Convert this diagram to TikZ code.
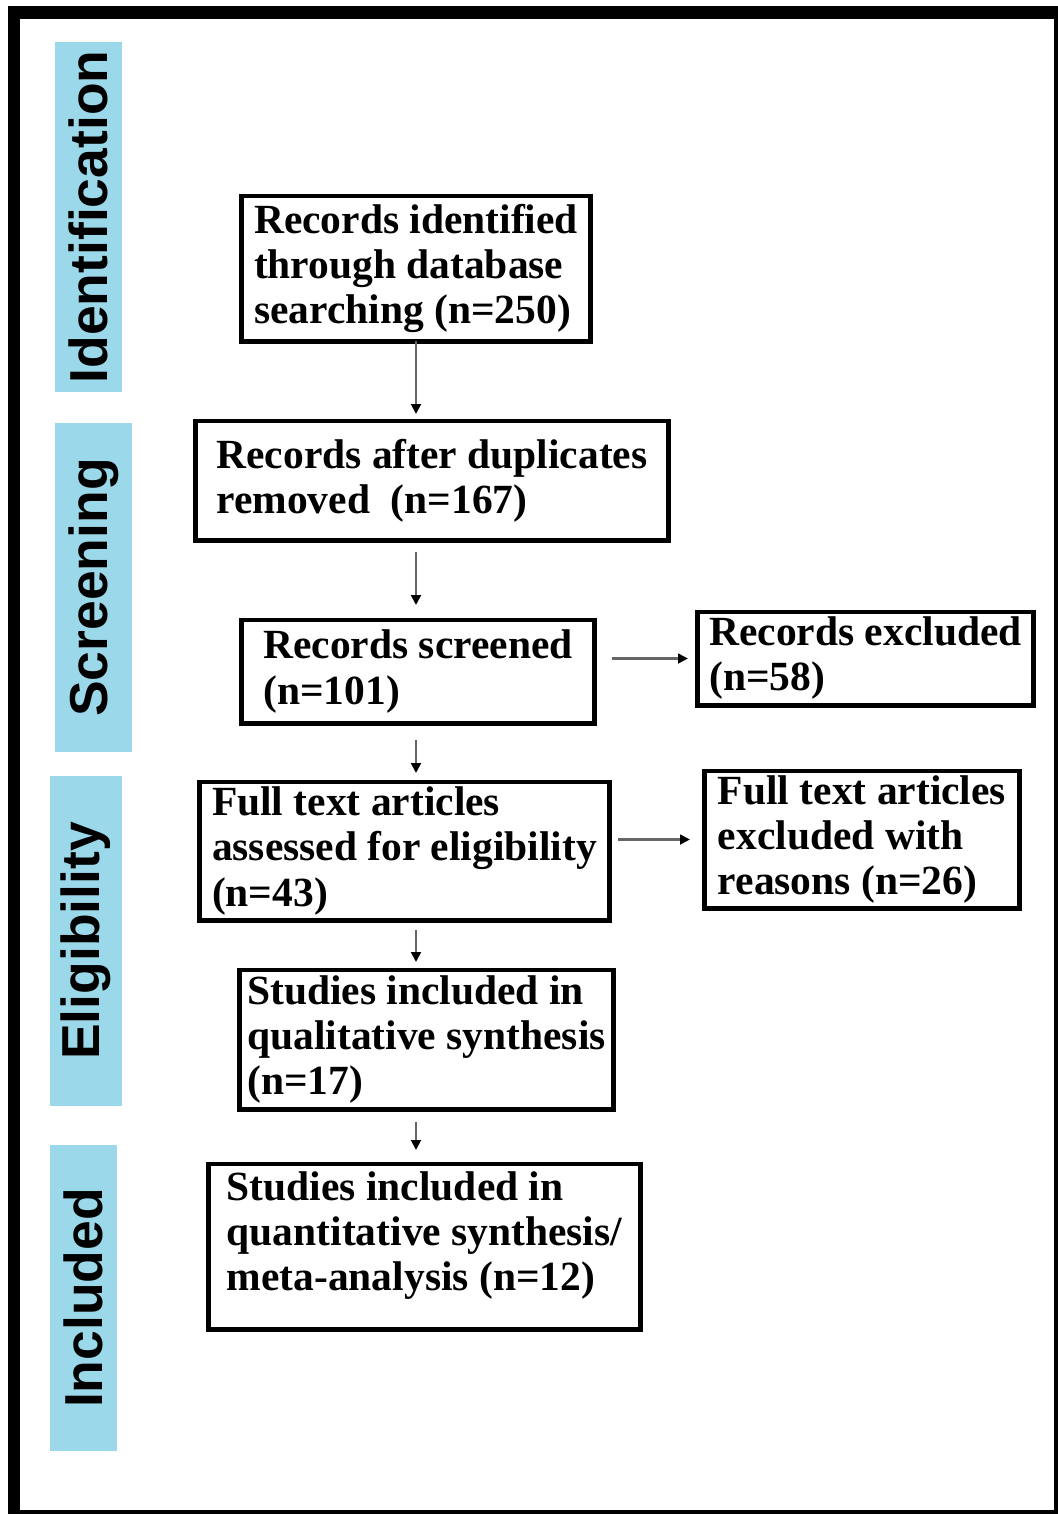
\documentclass[tikz,border=0pt]{standalone}
\usepackage{fontspec}
\setmainfont{Liberation Serif}
\setsansfont{Liberation Sans}
\usetikzlibrary{arrows.meta}
\definecolor{stageblue}{RGB}{155,217,234}

\begin{document}
\begin{tikzpicture}[x=0.01cm,y=-0.01cm,
  box/.style={draw,line width=1.4pt,align=left,inner sep=0pt,outer sep=0pt,
    font=\fontsize{11.8}{12.8}\selectfont\bfseries},
  stage/.style={fill=stageblue,rotate=90,inner sep=0pt,
    font=\fontsize{15.2}{16}\selectfont\sffamily\bfseries},
  arr/.style={draw=black!60,line width=0.6pt,-{Triangle[width=2.8pt,length=2.8pt,color=black]}}]
\useasboundingbox (0,0) rectangle (1058,1514);
\draw[line width=0.125cm] (14,12.5) rectangle (1060,1516);

% stage bars
\node[stage,minimum width=3.5cm,minimum height=0.67cm] (sIdent) at (88.5,217) {Identification};
\node[stage,minimum width=3.29cm,minimum height=0.77cm] (sScreen) at (93.5,587.5) {Screening};
\node[stage,minimum width=3.3cm,minimum height=0.72cm] (sElig) at (86,941) {Eligibility};
\node[stage,minimum width=3.05cm,minimum height=0.67cm] (sIncl) at (83.5,1298) {Included};

% boxes
\node[box,minimum width=3.48cm,minimum height=1.45cm] (ident) at (416,268.5) {Records identified\\through database\\searching (n=250)};
\node[box,minimum width=4.72cm,minimum height=1.19cm] (dupl) at (432,480.5) {Records after duplicates\\removed~ (n=167)};
\node[box,minimum width=3.52cm,minimum height=1.03cm] (screen) at (418,671.5) {Records screened\\(n=101)};
\node[box,minimum width=3.35cm,minimum height=0.93cm] (excl) at (865.5,658.5) {Records excluded\\(n=58)};
\node[box,minimum width=4.09cm,minimum height=1.38cm] (full) at (404.5,851) {Full text articles\\assessed for eligibility\\(n=43)};
\node[box,minimum width=3.14cm,minimum height=1.37cm] (fullexcl) at (862,839.5) {Full text articles\\excluded with\\reasons (n=26)};
\node[box,minimum width=3.73cm,minimum height=1.39cm] (qual) at (426.5,1039.5) {Studies included in\\qualitative synthesis\\(n=17)};
\node[box,minimum width=4.31cm,minimum height=1.65cm] (quant) at (424.5,1246.5) {Studies included in\\quantitative synthesis/\\meta-analysis (n=12)\rule[-9pt]{0pt}{9pt}};

% arrows
\draw[arr,shorten >=0.07cm] (ident.south) -- (ident.south |- dupl.north);
\draw[arr,shorten <=0.12cm,shorten >=0.15cm] (ident.south |- dupl.south) -- (ident.south |- screen.north);
\draw[arr,shorten <=0.17cm,shorten >=0.09cm] (ident.south |- screen.south) -- (ident.south |- full.north);
\draw[arr,shorten <=0.10cm,shorten >=0.08cm] (ident.south |- full.south) -- (ident.south |- qual.north);
\draw[arr,shorten <=0.13cm,shorten >=0.14cm] (ident.south |- qual.south) -- (ident.south |- quant.north);
\draw[arr,shorten <=0.18cm,shorten >=0.10cm] (screen.east |- excl.west) -- (excl.west);
\draw[arr,shorten <=0.09cm,shorten >=0.15cm] (full.east |- fullexcl.west) -- (fullexcl.west);
\end{tikzpicture}
\end{document}
